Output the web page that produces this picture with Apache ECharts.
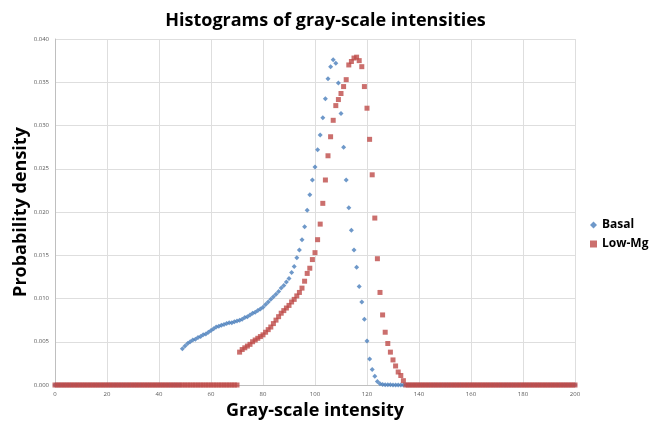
<!DOCTYPE html>
<html>
<head>
<meta charset="utf-8">
<script src="https://cdn.jsdelivr.net/npm/echarts@6/dist/echarts.min.js"></script>
<style>
  html, body { margin: 0; padding: 0; background: #fff; }
  #chart { width: 651px; height: 422px; }
</style>
</head>
<body>
<div id="chart"></div>
<script>
// gray level of the first entry in each density array (one entry per level)
const firstLevel = 0;

const xTicks = [0, 20, 40, 60, 80, 100, 120, 140, 160, 180, 200];
const yTicks = ['0.000', '0.005', '0.010', '0.015', '0.020', '0.025', '0.030', '0.035', '0.040'];

// Basal: levels 0 - 200
const basal = [
  0, 0, 0, 0, 0, 0, 0, 0, 0, 0, 0, 0, 0, 0, 0, 0, 0, 0, 0, 0,
  0, 0, 0, 0, 0, 0, 0, 0, 0, 0, 0, 0, 0, 0, 0, 0, 0, 0, 0, 0,
  0, 0, 0, 0, 0, 0, 0, 0, 0, 0.0042,
  0.0045, 0.0048, 0.0050, 0.0052, 0.0053, 0.0055, 0.0056, 0.0058, 0.0059, 0.0061,
  0.0063, 0.0065, 0.0067, 0.0068, 0.0069, 0.0070, 0.0071, 0.0072, 0.0072, 0.0073,
  0.0074, 0.0075, 0.0076, 0.0078, 0.0079, 0.0081, 0.0083, 0.0084, 0.0086, 0.0088,
  0.0090, 0.0093, 0.0096, 0.0099, 0.0102, 0.0105, 0.0108, 0.0112, 0.0115, 0.0119,
  0.0123, 0.0130, 0.0137, 0.0147, 0.0156, 0.0168, 0.0183, 0.0202, 0.0220, 0.0237,
  0.0252, 0.0272, 0.0289, 0.0309, 0.0331, 0.0354, 0.0368, 0.0376, 0.0372, 0.0349,
  0.0314, 0.0275, 0.0237, 0.0205, 0.0179, 0.0156, 0.0136, 0.0114, 0.0096, 0.0076,
  0.0051, 0.0030, 0.0018, 0.0010, 0.0004, 0.00015, 0.00006, 0.00004, 0.00003, 0.00002,
  0.00001, 0.00001, 0, 0, 0, 0, 0, 0, 0, 0,
  0, 0, 0, 0, 0, 0, 0, 0, 0, 0, 0, 0, 0, 0, 0, 0, 0, 0, 0, 0,
  0, 0, 0, 0, 0, 0, 0, 0, 0, 0, 0, 0, 0, 0, 0, 0, 0, 0, 0, 0,
  0, 0, 0, 0, 0, 0, 0, 0, 0, 0, 0, 0, 0, 0, 0, 0, 0, 0, 0, 0,
  0
];

// Low-Mg: levels 0 - 200
const lowMg = [
  0, 0, 0, 0, 0, 0, 0, 0, 0, 0, 0, 0, 0, 0, 0, 0, 0, 0, 0, 0,
  0, 0, 0, 0, 0, 0, 0, 0, 0, 0, 0, 0, 0, 0, 0, 0, 0, 0, 0, 0,
  0, 0, 0, 0, 0, 0, 0, 0, 0, 0, 0, 0, 0, 0, 0, 0, 0, 0, 0, 0,
  0, 0, 0, 0, 0, 0, 0, 0, 0, 0,
  0, 0.0038, 0.0041, 0.0043, 0.0045, 0.0047, 0.0050, 0.0052, 0.0054, 0.0056,
  0.0058, 0.0061, 0.0064, 0.0067, 0.0071, 0.0075, 0.0079, 0.0083, 0.0086, 0.0089,
  0.0092, 0.0096, 0.0099, 0.0103, 0.0107, 0.0112, 0.0120, 0.0129, 0.0135, 0.0145,
  0.0153, 0.0168, 0.0186, 0.0210, 0.0237, 0.0265, 0.0287, 0.0306, 0.0323, 0.0330,
  0.0337, 0.0345, 0.0353, 0.0370, 0.0374, 0.0378, 0.0379, 0.0375, 0.0368, 0.0345,
  0.0320, 0.0284, 0.0243, 0.0193, 0.0146, 0.0107, 0.0081, 0.0061, 0.0048, 0.0038,
  0.0029, 0.0022, 0.0015, 0.0011, 0.0005, 0, 0, 0, 0, 0,
  0, 0, 0, 0, 0, 0, 0, 0, 0, 0, 0, 0, 0, 0, 0, 0, 0, 0, 0, 0,
  0, 0, 0, 0, 0, 0, 0, 0, 0, 0, 0, 0, 0, 0, 0, 0, 0, 0, 0, 0,
  0, 0, 0, 0, 0, 0, 0, 0, 0, 0, 0, 0, 0, 0, 0, 0, 0, 0, 0, 0,
  0, 0, 0, 0, 0, 0, 0, 0, 0, 0
];

function toPoints(values) {
  return values.map((v, i) => [firstLevel + i, v]);
}

let chart = echarts.init(document.getElementById('chart'), null, { renderer: 'canvas' });

const font = '"Open Sans", "Noto Sans", sans-serif';

chart.setOption({
  backgroundColor: '#ffffff',
  animation: false,
  textStyle: { fontFamily: font },
  title: {
    text: 'Histograms of gray-scale intensities',
    left: 'center',
    top: 7,
    textStyle: { fontSize: 18, fontWeight: 'bold', color: '#000', fontFamily: font }
  },
  legend: {
    orient: 'vertical',
    left: 585,
    top: 214,
    itemGap: 7,
    itemWidth: 7,
    itemHeight: 7,
    textStyle: { fontSize: 12, fontWeight: 'bold', color: '#000' },
    data: ['Basal', 'Low-Mg']
  },
  grid: { left: 55, right: 76, top: 39, bottom: 37, outerBoundsMode: 'none' },
  xAxis: {
    type: 'value',
    min: xTicks[0],
    max: xTicks[xTicks.length - 1],
    interval: xTicks[1] - xTicks[0],
    name: 'Gray-scale intensity',
    nameLocation: 'middle',
    nameGap: 16,
    nameTextStyle: { fontSize: 18, fontWeight: 'bold', color: '#000' },
    axisLine: { lineStyle: { color: '#bfbfbf', width: 1 } },
    axisTick: { show: false },
    axisLabel: { fontSize: 6, color: '#595959', margin: 6 },
    splitLine: { show: true, lineStyle: { color: '#dedede', width: 1 } }
  },
  yAxis: {
    type: 'value',
    min: 0,
    max: Number(yTicks[yTicks.length - 1]),
    interval: Number(yTicks[1]),
    name: 'Probability density',
    nameLocation: 'middle',
    nameGap: 25,
    nameMoveOverlap: false,
    nameTextStyle: { fontSize: 18, fontWeight: 'bold', color: '#000' },
    axisLine: { show: true, lineStyle: { color: '#bfbfbf', width: 1 } },
    axisTick: { show: false },
    axisLabel: {
      fontSize: 6, color: '#595959', margin: 6,
      formatter: v => v.toFixed(3)
    },
    splitLine: { show: true, lineStyle: { color: '#dedede', width: 1 } }
  },
  series: [
    {
      name: 'Basal',
      type: 'scatter',
      symbol: 'diamond',
      symbolSize: 5,
      itemStyle: { color: '#4a7ebb' },
      data: toPoints(basal),
      z: 2
    },
    {
      name: 'Low-Mg',
      type: 'scatter',
      symbol: 'rect',
      symbolSize: 5,
      itemStyle: { color: '#be4b48' },
      data: toPoints(lowMg),
      z: 3
    }
  ]
});
</script>
</body>
</html>
